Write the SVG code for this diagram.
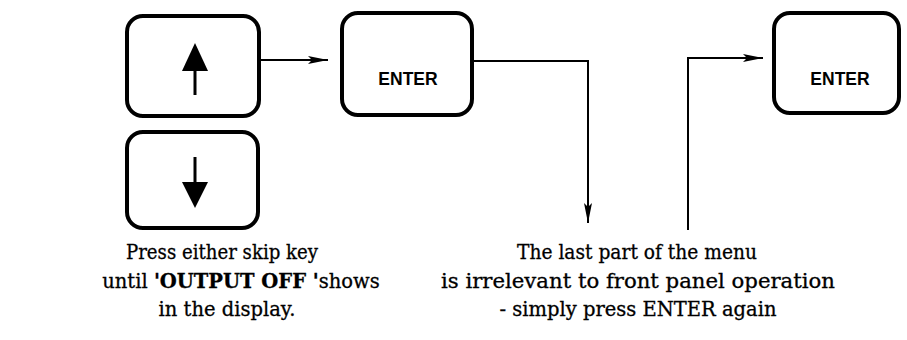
<svg xmlns="http://www.w3.org/2000/svg" width="907" height="340" viewBox="0 0 907 340">
<style>
.key{fill:#fff;stroke:#000;stroke-width:4}
.lbl{font-family:"Liberation Sans",Arial,sans-serif;font-weight:bold;font-size:17.5px;fill:#000;text-anchor:middle}
.conn{fill:none;stroke:#000;stroke-width:2}
.cap{font-family:"DejaVu Serif","Liberation Serif",serif;font-size:19.5px;fill:#000;stroke:#000;stroke-width:0.3;text-anchor:middle}
</style>
<defs>
<marker id="ah" viewBox="0 0 20 10" refX="20" refY="5" markerWidth="20" markerHeight="10" markerUnits="userSpaceOnUse" orient="auto">
<path d="M0,1 L20,5 L0,9 L4,5 Z" fill="#000"/>
</marker>
</defs>
<rect width="907" height="340" fill="#fff"/>
<g id="key-up">
<rect class="key" x="127" y="16" width="132" height="100" rx="16"/>
<line x1="195" y1="95" x2="195" y2="68" stroke="#000" stroke-width="3"/>
<path d="M195,43 L208,71 L182,71 Z" fill="#000"/>
</g>
<g id="key-down">
<rect class="key" x="127" y="132" width="131" height="96" rx="16"/>
<line x1="195" y1="157" x2="195" y2="185" stroke="#000" stroke-width="3"/>
<path d="M195,208 L208,182 L182,182 Z" fill="#000"/>
</g>
<g id="enter-1">
<rect class="key" x="342" y="13" width="130" height="102" rx="16"/>
<text class="lbl" x="408" y="85">ENTER</text>
</g>
<g id="enter-2">
<rect class="key" x="774" y="13" width="125" height="100" rx="16"/>
<text class="lbl" x="840" y="85">ENTER</text>
</g>
<g id="connectors">
<path class="conn" d="M260,60 H328" marker-end="url(#ah)"/>
<path class="conn" d="M472,61 H588 V223" marker-end="url(#ah)"/>
<path class="conn" d="M688,230 V58 H763" marker-end="url(#ah)"/>
</g>
<g id="caption-left">
<text class="cap" x="222" y="259" textLength="192" lengthAdjust="spacingAndGlyphs">Press either skip key</text>
<text class="cap" x="241" y="288">until <tspan font-weight="bold">'OUTPUT OFF '</tspan>shows</text>
<text class="cap" x="227" y="316">in the display.</text>
</g>
<g id="caption-right">
<text class="cap" x="637" y="259" textLength="240" lengthAdjust="spacingAndGlyphs">The last part of the menu</text>
<text class="cap" x="638" y="288" textLength="394" lengthAdjust="spacingAndGlyphs">is irrelevant to front panel operation</text>
<text class="cap" x="638" y="316">- simply press ENTER again</text>
</g>
</svg>
